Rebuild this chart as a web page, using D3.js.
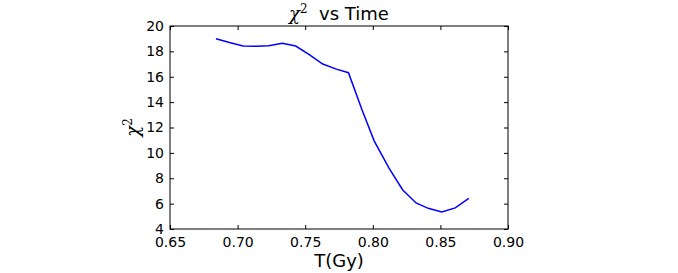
<!DOCTYPE html>
<html>
<head>
<meta charset="utf-8">
<script src="https://cdn.jsdelivr.net/npm/d3@7"></script>
<style>
  body { margin: 0; background: #fff; }
  text { font-family: "DejaVu Sans", sans-serif; fill: #000; }
</style>
</head>
<body>
<div id="chart"></div>
<script>
const timeValues = [0.684, 0.694, 0.704, 0.714, 0.723, 0.733, 0.743, 0.753, 0.763, 0.773,
                    0.782, 0.792, 0.801, 0.812, 0.822, 0.832, 0.841, 0.851, 0.861, 0.871]
const chiValues = [19.0, 18.7, 18.43, 18.4, 18.45, 18.63, 18.42, 17.75, 17.0, 16.6,
                   16.32, 13.4, 10.95, 8.8, 7.1, 6.05, 5.63, 5.34, 5.66, 6.42]
const xTicks = [0.65, 0.70, 0.75, 0.80, 0.85, 0.90]
const yTicks = [4, 6, 8, 10, 12, 14, 16, 18, 20]

const margin = { top: 26, right: 170, bottom: 44, left: 170 }
const width = 678 - margin.left - margin.right
const height = 273 - margin.top - margin.bottom

const svg = d3.select("#chart")
              .append("svg")
              .attr("width", 678)
              .attr("height", 273)

const graph = svg.append("g")
                 .attr("transform", "translate(" + margin.left + "," + margin.top + ")")

const x = d3.scaleLinear().domain([0.65, 0.90]).range([0, width])
const y = d3.scaleLinear().domain([4, 20]).range([height, 0])

// ticks point inward on all four sides, like old matplotlib
const tickLen = 4
const styleAxis = g => {
    g.select(".domain").remove()
    g.selectAll(".tick line").attr("stroke", "#000").attr("stroke-width", 1)
    g.selectAll(".tick text").style("font-size", "14px")
}

graph.append("g")
     .attr("transform", "translate(0," + height + ")")
     .call(d3.axisBottom(x).tickValues(xTicks).tickFormat(d3.format(".2f"))
             .tickSizeInner(-tickLen).tickSizeOuter(0).tickPadding(8))
     .call(styleAxis)

graph.append("g")
     .call(d3.axisTop(x).tickValues(xTicks).tickFormat("")
             .tickSizeInner(-tickLen).tickSizeOuter(0))
     .call(styleAxis)

graph.append("g")
     .call(d3.axisLeft(y).tickValues(yTicks).tickFormat(d3.format("d"))
             .tickSizeInner(-tickLen).tickSizeOuter(0).tickPadding(6))
     .call(styleAxis)

graph.append("g")
     .attr("transform", "translate(" + width + ",0)")
     .call(d3.axisRight(y).tickValues(yTicks).tickFormat("")
             .tickSizeInner(-tickLen).tickSizeOuter(0))
     .call(styleAxis)

graph.append("rect")
     .attr("width", width)
     .attr("height", height)
     .attr("fill", "none")
     .attr("stroke", "#000")
     .attr("stroke-width", 1)

const line = d3.line()
               .x((d, i) => x(timeValues[i]))
               .y(d => y(d))

graph.append("path")
     .datum(chiValues)
     .attr("fill", "none")
     .attr("stroke", "#0000ff")
     .attr("stroke-width", 1.5)
     .attr("d", line)

// title
const title = svg.append("text")
                 .attr("x", margin.left + width / 2)
                 .attr("y", 20)
                 .attr("text-anchor", "middle")
                 .style("font-size", "18px")
title.append("tspan")
     .style("font-family", "'DejaVu Serif', serif")
     .style("font-style", "italic")
     .text("χ")
title.append("tspan")
     .attr("dy", -7)
     .style("font-family", "'DejaVu Serif', serif")
     .style("font-size", "12px")
     .text("2")
title.append("tspan")
     .attr("dy", 7)
     .text("\u00a0 vs Time")

// x label
svg.append("text")
   .attr("x", margin.left + width / 2)
   .attr("y", 267)
   .attr("text-anchor", "middle")
   .style("font-size", "18px")
   .text("T(Gy)")

// y label
const ylab = svg.append("text")
                .attr("transform", "translate(139," + (margin.top + height / 2) + ") rotate(-90)")
                .attr("text-anchor", "middle")
                .style("font-size", "18px")
ylab.append("tspan")
    .style("font-family", "'DejaVu Serif', serif")
    .style("font-style", "italic")
    .text("χ")
ylab.append("tspan")
    .attr("dy", -7)
    .style("font-family", "'DejaVu Serif', serif")
    .style("font-size", "12px")
    .text("2")
</script>
</body>
</html>
